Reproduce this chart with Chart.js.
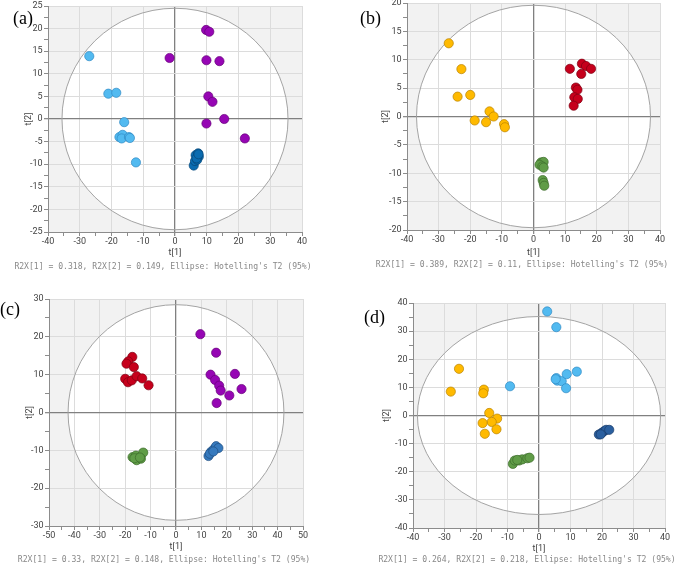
<!DOCTYPE html>
<html>
<head>
<meta charset="utf-8">
<script src="https://cdn.jsdelivr.net/npm/chart.js@4"></script>
<style>
  body { margin: 0; width: 677px; height: 567px; background: #fff; position: relative; overflow: hidden; }
  canvas { position: absolute; left: 0; top: -10px; }
  .lbl { position: absolute; font-family: "Liberation Serif", serif; font-size: 18px; line-height: 18px; color: #000; transform: translateY(-50%); }
  .cap { position: absolute; font-family: "DejaVu Sans Mono", monospace; font-size: 8.1px; color: #888; white-space: nowrap; transform: translate(-50%, -50%); }
</style>
</head>
<body>
<canvas id="chartA" width="677" height="577"></canvas>
<canvas id="chartB" width="677" height="577"></canvas>
<canvas id="chartC" width="677" height="577"></canvas>
<canvas id="chartD" width="677" height="577"></canvas>

<div class="lbl" style="left:13px;top:18px">(a)</div>
<div class="lbl" style="left:360px;top:18px">(b)</div>
<div class="lbl" style="left:0px;top:309px">(c)</div>
<div class="lbl" style="left:364px;top:317px">(d)</div>

<div class="cap" style="left:163px;top:266px">R2X[1] = 0.318, R2X[2] = 0.149, Ellipse: Hotelling's T2 (95%)</div>
<div class="cap" style="left:522px;top:264px">R2X[1] = 0.389, R2X[2] = 0.11, Ellipse: Hotelling's T2 (95%)</div>
<div class="cap" style="left:164px;top:559px">R2X[1] = 0.33, R2X[2] = 0.148, Ellipse: Hotelling's T2 (95%)</div>
<div class="cap" style="left:527px;top:559px">R2X[1] = 0.264, R2X[2] = 0.218, Ellipse: Hotelling's T2 (95%)</div>

<script>
// score values, [t1, t2]
const aLightBlue = [[-27,13.9],[-21,5.6],[-18.5,5.8],[-16,-0.7],[-17.5,-4],[-16.5,-3.5],[-16.8,-4.3],[-14.5,-4],[-14.2,-4.2],[-12.3,-9.6]];
const aPurple = [[9.8,19.7],[10.8,19.3],[-1.7,13.5],[9.9,13],[14,12.8],[10.5,5],[11.8,3.8],[15.5,0],[9.9,-1],[22,-4.3]];
const aDarkBlue = [[5.9,-10.3],[6.3,-9.3],[6.5,-8],[7.3,-7.6],[7.5,-8.3],[7,-9],[6.8,-8.7],[7.4,-7.8]];

const bYellow = [[-26.8,12.9],[-22.8,8.35],[-24,3.5],[-20,3.8],[-13.9,0.9],[-12.6,0],[-18.6,-0.7],[-15,-1],[-9.3,-1.35],[-9.05,-1.9]];
const bRed = [[11.5,8.4],[15.3,9.3],[16.6,8.9],[18.2,8.4],[15.1,7.5],[13.4,5.1],[13.9,4.7],[12.9,3.4],[14,3.1],[12.7,1.9]];
const bGreen = [[2.4,-8.1],[3.2,-8],[1.9,-8.5],[2.8,-8.8],[3.2,-9],[2.9,-11.2],[3.2,-11.7],[3.4,-12.2]];

const cRed = [[-17.2,14.7],[-18.8,13.5],[-19.5,12.9],[-16.6,12],[-20,8.9],[-18.9,8],[-17.4,8.5],[-15.5,9.6],[-13.3,9],[-10.8,7.2]];
const cPurple = [[9.6,20.7],[15.8,15.8],[13.6,10],[23.2,10.2],[15.4,8.6],[17,7.1],[17.6,5.8],[25.8,6.2],[21,4.5],[16,2.5]];
const cGreen = [[-17.1,-11.8],[-15.8,-11.4],[-12.9,-10.6],[-14.9,-12.1],[-15.5,-12.6],[-13.8,-12.2],[-16.4,-12.1],[-14.2,-11.9]];
const cBlue = [[12.8,-11.5],[13.8,-10.4],[14.9,-9.7],[15.8,-8.9],[16.7,-9.4],[13.3,-10.9],[14.7,-10.3]];

const dLightBlue = [[2.6,37],[5.5,31.4],[5.5,13.3],[5.8,12.4],[7.2,12.2],[8.8,14.7],[12,15.6],[8.6,9.7],[-9.2,10.4],[5.3,12.9]];
const dYellow = [[-25.4,16.6],[-28,8.5],[-17.5,9.2],[-17.7,7.9],[-15.8,0.9],[-13.3,-1.1],[-15,-2.3],[-17.9,-2.7],[-13.5,-4.9],[-17.2,-6.5]];
const dGreen = [[-8.3,-17.2],[-7.7,-16],[-6.3,-16],[-5.3,-15.6],[-3.7,-15.2],[-3,-15],[-6.9,-15.8]];
const dDarkBlue = [[19,-6.75],[19.9,-6.2],[20.6,-5.6],[21.3,-5.1],[22.3,-5.1],[19.6,-6.7]];

// Hotelling T2 ellipse radii [t1, t2]
const aEllipse = [35.6, 24.5];
const bEllipse = [37, 19.6];
const cEllipse = [42.5, 28.5];
const dEllipse = [38.6, 35.2];

const COLORS = {
  lightBlue: ['#52baf0', '#2f8ac4'],
  purple: ['#9606b4', '#650079'],
  darkBlue: ['#0b6cb0', '#074878'],
  yellow: ['#ffba00', '#b98300'],
  red: ['#c6001c', '#7d0012'],
  green: ['#609c47', '#3c6b2b'],
  blue: ['#3679bd', '#1f4d80'],
  navy: ['#2a5f9f', '#183b68'],
};

const hotelling = {
  id: 'hotelling',
  beforeDraw(chart, args, opts) {
    const { ctx, chartArea: a, scales: { x, y } } = chart;
    const cx = x.getPixelForValue(0), cy = y.getPixelForValue(0);
    ctx.save();
    ctx.fillStyle = '#f2f2f2';
    ctx.fillRect(a.left, a.top, a.width, a.height);
    ctx.beginPath();
    ctx.ellipse(cx, cy, x.getPixelForValue(opts.r[0]) - cx, cy - y.getPixelForValue(opts.r[1]), 0, 0, Math.PI * 2);
    ctx.fillStyle = '#fff';
    ctx.fill();
    ctx.restore();
  },
  beforeDatasetsDraw(chart, args, opts) {
    const { ctx, scales: { x, y } } = chart;
    const cx = x.getPixelForValue(0), cy = y.getPixelForValue(0);
    ctx.save();
    ctx.beginPath();
    ctx.ellipse(cx, cy, x.getPixelForValue(opts.r[0]) - cx, cy - y.getPixelForValue(opts.r[1]), 0, 0, Math.PI * 2);
    ctx.strokeStyle = '#a4a4a4';
    ctx.lineWidth = 1;
    ctx.stroke();
    ctx.restore();
  }
};

function axis(min, max, major, fit, title) {
  return {
    min, max,
    afterFit: fit,
    border: { color: '#8c8c8c', width: 1 },
    grid: {
      color: (c) => {
        const v = c.tick ? c.tick.value : null;
        if (v === 0) return '#808080';
        return (v !== null && Math.abs(v % major) < 1e-9) ? '#dcdcdc' : 'rgba(0,0,0,0)';
      },
      lineWidth: (c) => (c.tick && c.tick.value === 0) ? 1.3 : 1,
      tickColor: '#8c8c8c',
      tickLength: 4,
    },
    ticks: {
      stepSize: major / 2,
      autoSkip: false,
      maxRotation: 0,
      color: '#444',
      font: { family: 'Roboto', size: 9 },
      callback: (v) => Math.abs(v % major) < 1e-9 ? String(v) : '',
    },
    title: { display: true, text: title, color: '#444', font: { family: 'Roboto', size: 9 }, padding: 0 },
  };
}

function toPts(arr) { return arr.map(p => ({ x: p[0], y: p[1] })); }

function makePanel(id, box, xr, yr, ellipse, groups) {
  // box: page coords of the plot area plus y axis width / x axis height
  const ctx = document.getElementById(id).getContext('2d');
  const xAxis = axis(xr[0], xr[1], xr[2], (s) => { s.height = box.xh; }, 't[1]');
  xAxis.ticks.padding = 0.5;
  const yAxis = axis(yr[0], yr[1], yr[2], (s) => { s.width = box.yw; }, 't[2]');
  yAxis.ticks.padding = 1.5;
  return new Chart(ctx, {
    type: 'scatter',
    data: {
      datasets: groups.map(([pts, col]) => ({
        data: toPts(pts),
        backgroundColor: COLORS[col][0],
        borderColor: COLORS[col][1],
        borderWidth: 0.7,
        pointRadius: 4.6,
      }))
    },
    options: {
      responsive: false,
      animation: false,
      devicePixelRatio: 1,
      parsing: false,
      layout: {
        padding: {
          left: box.L - box.yw,
          top: box.T + 10,
          right: 677 - box.R,
          bottom: 567 - box.B - box.xh,
        }
      },
      scales: { x: xAxis, y: yAxis },
      plugins: {
        legend: { display: false },
        tooltip: { enabled: false },
        hotelling: { r: ellipse },
      }
    },
    plugins: [hotelling],
  });
}

makePanel('chartA', { L: 48, R: 302, T: 6, B: 232, yw: 24.4, xh: 26.4 },
  [-40, 40, 10], [-25, 25, 5], aEllipse,
  [[aLightBlue, 'lightBlue'], [aPurple, 'purple'], [aDarkBlue, 'darkBlue']]);

makePanel('chartB', { L: 407, R: 660, T: 3, B: 230, yw: 27.1, xh: 27.7 },
  [-40, 40, 10], [-20, 20, 5], bEllipse,
  [[bYellow, 'yellow'], [bRed, 'red'], [bGreen, 'green']]);

makePanel('chartC', { L: 49, R: 303, T: 299, B: 526, yw: 25.1, xh: 26.1 },
  [-50, 50, 10], [-30, 30, 10], cEllipse,
  [[cRed, 'red'], [cPurple, 'purple'], [cGreen, 'green'], [cBlue, 'blue']]);

makePanel('chartD', { L: 413, R: 665, T: 303, B: 528, yw: 31.4, xh: 25.7 },
  [-40, 40, 10], [-40, 40, 10], dEllipse,
  [[dYellow, 'yellow'], [dLightBlue, 'lightBlue'], [dGreen, 'green'], [dDarkBlue, 'navy']]);
</script>
</body>
</html>
